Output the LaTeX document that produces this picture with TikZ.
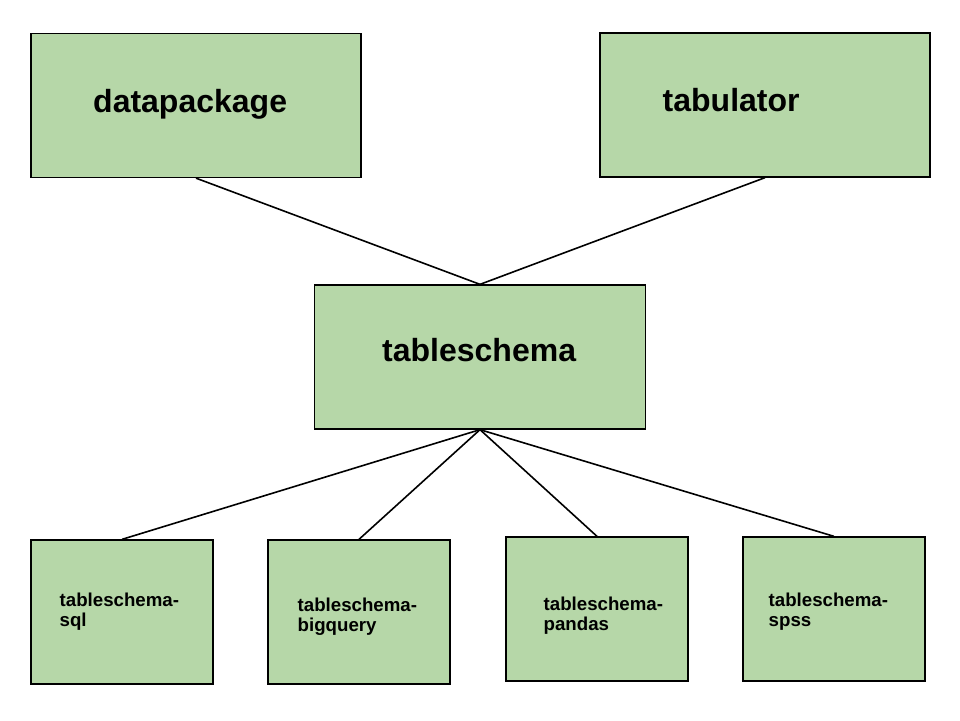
\documentclass[tikz,border=0pt]{standalone}
\usepackage{fontspec}
\setmainfont{Liberation Sans}
\definecolor{pkggreen}{HTML}{B6D7A8}

\begin{document}
\begin{tikzpicture}[x=1pt,y=-1pt,-]
                \tikzstyle{pkg}=[rectangle,draw=black,fill=pkggreen,line width=1.3pt,inner sep=0pt,minimum height=144pt]
                \tikzstyle{big}=[font=\fontsize{32}{38}\selectfont\bfseries,inner sep=0pt,anchor=base west]
                \tikzstyle{small}=[font=\fontsize{18.67}{20.7}\selectfont\bfseries,inner sep=0pt,anchor=base west,align=left]
                \tikzstyle{link}=[line width=1.6pt,draw=black]
                \useasboundingbox (0,0) rectangle (960,720);

                \node[pkg,minimum width=330pt] (datapackage) at (196,105.5) {};
                \node[pkg,minimum width=330pt] (tabulator) at (765,105) {};
                \node[pkg,minimum width=331pt] (tableschema) at (480,357) {};
                \foreach \name/\x/\y in {sql/122/612, bigquery/359/612, pandas/597/609, spss/834/609}
                        \node[pkg,minimum width=182pt] (\name) at (\x,\y) {};

                \node[big] (datapackage-text) at (93,112.5) {datapackage};
                \node[big] (tabulator-text) at (662.5,111.5) {tabulator};
                \node[big] (tableschema-text) at (382,361.5) {tableschema};
                % base anchor sits on the second line
                \foreach \name/\x/\y in {sql/59.5/626.7, bigquery/297.5/631.7, pandas/543.5/630.7, spss/768.5/626.7}
                        \node[small] (\name-text) at (\x,\y) {tableschema-\\\name};

                \foreach \from in {datapackage, tabulator}
                        \draw[link] (\from.south) -- (tableschema.north);
                \foreach \to in {sql, bigquery, pandas, spss}
                        \draw[link] (tableschema.south) -- (\to.north);
\end{tikzpicture}
\end{document}
